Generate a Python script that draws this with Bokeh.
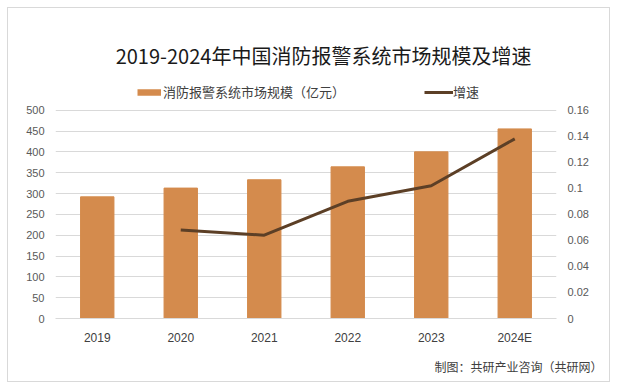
from bokeh.plotting import figure
from bokeh.models import (Range1d, LinearAxis, FixedTicker, Legend, Label,
                          LegendItem, FactorRange, Title)
from bokeh.embed import file_html
from bokeh.resources import INLINE

years = ["2019", "2020", "2021", "2022", "2023", "2024E"]
market_size = [292, 313, 333, 364, 400, 455]
growth_years = ["2020", "2021", "2022", "2023", "2024E"]
growth_rate = [0.068, 0.064, 0.090, 0.102, 0.138]
left_ticks = [0, 50, 100, 150, 200, 250, 300, 350, 400, 450, 500]
right_ticks = [0, 0.02, 0.04, 0.06, 0.08, 0.1, 0.12, 0.14, 0.16]
right_tick_labels = ["0", "0.02", "0.04", "0.06", "0.08", "0.1", "0.12", "0.14", "0.16"]

title_text = "2019-2024年中国消防报警系统市场规模及增速"
bar_label = "消防报警系统市场规模（亿元）"
line_label = "增速"
source_text = "制图：共研产业咨询（共研网）"

BAR_COLOR = "#D48B4D"
LINE_COLOR = "#5C3F26"
GRID = "#D9D9D9"
TICK = "#595959"
CJK = "Noto Sans CJK SC"

# the frame reaches the top of the canvas so title and legend can sit inside it;
# the value axes only carry ticks 0..500 / 0..0.16
TOP_LEFT = 500 * 311 / 209
TOP_RIGHT = 0.16 * 311 / 209

p = figure(x_range=FactorRange(factors=years), y_range=Range1d(0, TOP_LEFT),
           width=603, height=375, output_backend="svg", toolbar_location=None,
           title=None,
           min_border_left=47, min_border_right=55, min_border_top=0,
           min_border_bottom=64)
p.styles = {"margin": "7px", "border": "1px solid #D9D9D9"}
p.outline_line_color = None
p.background_fill_color = "white"
p.border_fill_color = "white"

p.extra_y_ranges = {"right": Range1d(0, TOP_RIGHT)}

bars = p.vbar(x=years, top=market_size, width=0.4, color=BAR_COLOR)
line = p.line(x=growth_years, y=growth_rate, y_range_name="right",
              line_width=3, color=LINE_COLOR)
# legend key for the bars (a single point draws no line on the chart)
bar_key = p.line(x=years[:1], y=[0], line_width=6.5, color=BAR_COLOR)

# axes
p.yaxis.ticker = FixedTicker(ticks=left_ticks)
lax = p.yaxis[0]
lax.axis_line_color = None
lax.major_tick_line_color = None
lax.minor_tick_line_color = None
lax.major_tick_out = 0
lax.major_label_text_font = "Liberation Sans"
lax.major_label_text_font_size = "11px"
lax.major_label_text_color = TICK
lax.major_label_standoff = 11

rax = LinearAxis(y_range_name="right", ticker=FixedTicker(ticks=right_ticks),
                 major_label_overrides={t: l for t, l in zip(right_ticks, right_tick_labels)})
rax.axis_line_color = None
rax.major_tick_line_color = None
rax.minor_tick_line_color = None
rax.major_tick_out = 0
rax.major_label_text_font = "Liberation Sans"
rax.major_label_text_font_size = "11px"
rax.major_label_text_color = TICK
rax.major_label_standoff = 11
p.add_layout(rax, "right")

xa = p.xaxis[0]
xa.axis_line_color = GRID
xa.major_tick_line_color = None
xa.minor_tick_line_color = None
xa.major_tick_out = 0
xa.major_tick_in = 0
xa.major_label_text_font = "Liberation Sans"
xa.major_label_text_font_size = "12px"
xa.major_label_text_color = "#404040"
xa.major_label_standoff = 12

p.xgrid.grid_line_color = None
p.ygrid.grid_line_color = GRID
p.ygrid.grid_line_width = 1

# legends (inside the tall frame, above the bars)
common = dict(glyph_height=16, label_height=16, padding=0, margin=0,
              border_line_color=None, background_fill_alpha=0,
              label_text_font=CJK, label_text_font_size="13px",
              label_text_color="#404040")
leg1 = Legend(items=[LegendItem(label=bar_label, renderers=[bar_key])],
              location=(82, 217), glyph_width=24, label_standoff=2, **common)
leg2 = Legend(items=[LegendItem(label=line_label, renderers=[line])],
              location=(369, 217), glyph_width=29, label_standoff=0, **common)
p.add_layout(leg1)
p.add_layout(leg2)

# title
p.add_layout(Label(x=3.21, y=631.6, text=title_text, text_align="center",
                   text_baseline="middle", text_font=CJK, text_font_size="20px",
                   text_color="#1A1A1A"))

# source footer
p.add_layout(Title(text=source_text, align="right", offset=-46,
                   vertical_align="bottom", standoff=17, text_font=CJK,
                   text_font_size="12px", text_font_style="normal",
                   text_color="#404040"), "below")

open("out.html", "w").write(file_html(p, INLINE))
